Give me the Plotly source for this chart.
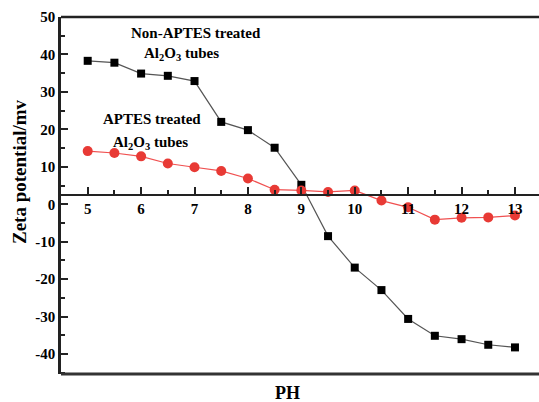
import plotly.graph_objects as go

ph = [5, 5.5, 6, 6.5, 7, 7.5, 8, 8.5, 9, 9.5, 10, 10.5, 11, 11.5, 12, 12.5, 13]
non_aptes = [38.3, 37.8, 34.9, 34.3, 32.9, 22.0, 19.8, 15.1, 5.2, -8.5, -16.9, -22.9, -30.6, -35.1, -36.0, -37.5, -38.2]
aptes = [14.2, 13.7, 12.8, 10.9, 9.9, 8.9, 6.9, 3.9, 3.7, 3.3, 3.7, 1.0, -0.8, -4.1, -3.6, -3.5, -3.0]
x_ticks = [5, 6, 7, 8, 9, 10, 11, 12, 13]
y_ticks = [-40, -30, -20, -10, 0, 10, 20, 30, 40, 50]

FONT = "Liberation Serif, Times New Roman, serif"
y_min, y_max = -45.3, 50
x_cross = 2.4

fig = go.Figure()
fig.add_trace(go.Scatter(
    x=ph, y=non_aptes, mode="lines+markers",
    line=dict(color="#555555", width=1.2),
    marker=dict(symbol="square", size=8, color="black"),
    showlegend=False))
fig.add_trace(go.Scatter(
    x=ph, y=aptes, mode="lines+markers",
    line=dict(color="#f05050", width=1.2),
    marker=dict(symbol="circle", size=10, color="#e83a35"),
    showlegend=False))

fig.update_layout(
    template="none",
    width=539, height=402,
    margin=dict(l=61, r=0, t=17, b=28, autoexpand=False),
    plot_bgcolor="white", paper_bgcolor="white",
    font=dict(family=FONT, size=15, color="black"),
    xaxis=dict(
        range=[4.5, 13.45], anchor="free", automargin=False,
        position=(x_cross - y_min) / (y_max - y_min),
        tickvals=x_ticks, ticktext=[str(v) for v in x_ticks],
        ticks="inside", ticklen=7, tickwidth=1.5, tickcolor="#222",
        minor=dict(dtick=0.5, tick0=5, ticks="inside", ticklen=4, tickwidth=1.5, tickcolor="#222"),
        showline=True, linewidth=2, linecolor="#222",
        showgrid=False, zeroline=False,
        tickfont=dict(family=FONT, size=15, color="black", weight="bold"),
    ),
    yaxis=dict(
        range=[y_min, y_max], automargin=False,
        tickvals=y_ticks, ticktext=[str(v) for v in y_ticks],
        ticks="inside", ticklen=7, tickwidth=1.5, tickcolor="#222",
        minor=dict(dtick=5, tick0=0, ticks="inside", ticklen=4, tickwidth=1.5, tickcolor="#222"),
        showline=True, linewidth=2.5, linecolor="#222",
        showgrid=False, zeroline=False,
        tickfont=dict(family=FONT, size=15, color="black", weight="bold"),
    ),
    shapes=[
        dict(type="line", xref="paper", yref="paper", x0=0, x1=1, y0=0, y1=0,
             line=dict(color="#333", width=3)),
        dict(type="line", xref="paper", yref="paper", x0=0, x1=1, y0=1, y1=1,
             line=dict(color="#222", width=2.5)),
    ],
    annotations=[
        dict(x=7.03, y=45.6, xref="x", yref="y", text="<b>Non-APTES treated</b>",
             showarrow=False, font=dict(family=FONT, size=15)),
        dict(x=6.75, y=40.0, xref="x", yref="y", text="<b>Al<sub>2</sub>O<sub>3</sub> tubes</b>",
             showarrow=False, font=dict(family=FONT, size=15)),
        dict(x=6.2, y=22.9, xref="x", yref="y", text="<b>APTES treated</b>",
             showarrow=False, font=dict(family=FONT, size=15)),
        dict(x=6.17, y=16.3, xref="x", yref="y", text="<b>Al<sub>2</sub>O<sub>3</sub> tubes</b>",
             showarrow=False, font=dict(family=FONT, size=15)),
        dict(x=(287 - 61) / 478, y=-19 / 357, xref="paper", yref="paper", text="<b>PH</b>",
             showarrow=False, font=dict(family=FONT, size=18), yanchor="middle"),
        dict(x=-42 / 478, y=(374 - 172) / 357, xref="paper", yref="paper",
             text="<b>Zeta potential/mv</b>", textangle=-90,
             showarrow=False, font=dict(family=FONT, size=19), xanchor="center", yanchor="middle"),
    ],
)

fig.write_html("out.html", config={"displayModeBar": False},
               post_script="document.body.style.margin='0';document.body.style.overflow='hidden';")
